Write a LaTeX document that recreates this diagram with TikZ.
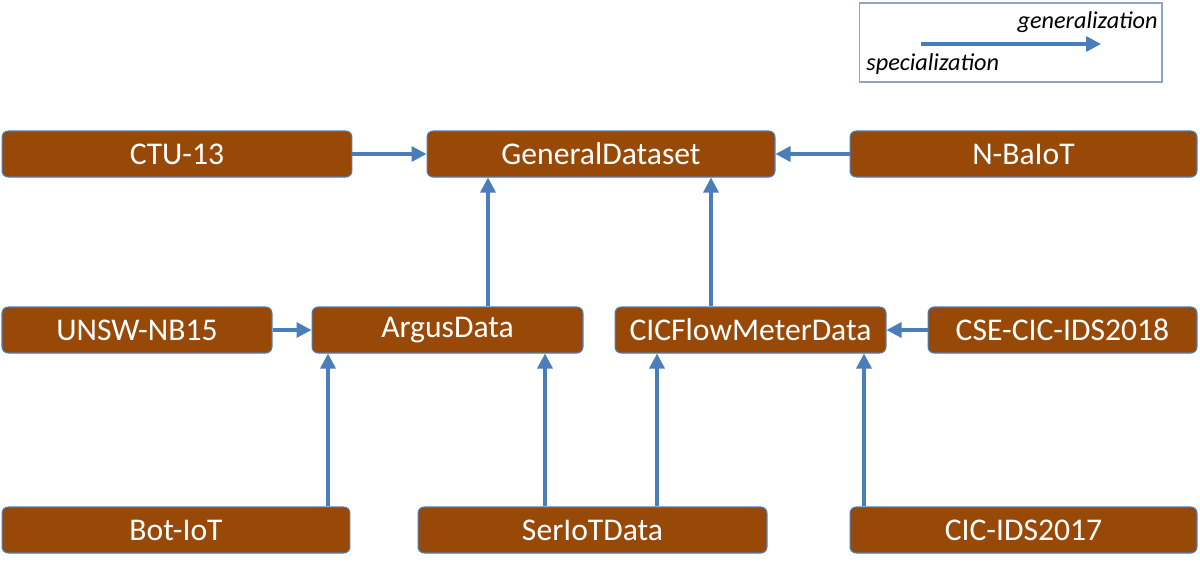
\documentclass[tikz,border=0pt]{standalone}
\usepackage{fontspec}
\setmainfont{Carlito}
\usetikzlibrary{arrows.meta}
\definecolor{boxfill}{HTML}{984807}
\definecolor{boxline}{HTML}{4A7EBB}
\definecolor{arr}{HTML}{4A7EBB}
\definecolor{legline}{HTML}{8EA4C4}
\begin{document}
\begin{tikzpicture}[x=0.02cm,y=-0.02cm,
  ds/.style={draw=boxline,line width=0.6pt,fill=boxfill,rounded corners=3.5pt,text=white,font=\fontsize{18}{20}\selectfont,inner sep=0pt,minimum height=0.92cm},
  link/.style={draw=arr,line width=1.9pt,-{Triangle[length=0.3cm,width=0.3cm]}},
  legtxt/.style={font=\fontsize{13.8}{15}\selectfont\itshape,inner sep=0pt}]
\useasboundingbox (0,0) rectangle (1200,569);
\node[ds,minimum width=7.0cm] (ctu) at (177,154) {CTU-13};
\node[ds,minimum width=6.96cm] (gen) at (601,154) {GeneralDataset};
\node[ds,minimum width=6.94cm] (nbaiot) at (1023.5,154) {N-BaIoT};
\node[ds,minimum width=5.4cm] (unsw) at (137,330) {UNSW-NB15};
\node[ds,minimum width=5.42cm] (argus) at (447.5,330) {ArgusData};
\node[ds,minimum width=5.42cm] (cic) at (750.5,330) {CICFlowMeterData};
\node[ds,minimum width=5.38cm] (cse) at (1062.5,330) {CSE-CIC-IDS2018};
\node[ds,minimum width=6.96cm] (bot) at (176,530) {Bot-IoT};
\node[ds,minimum width=6.98cm] (ser) at (592.5,530) {SerIoTData};
\node[ds,minimum width=6.94cm] (cic17) at (1023.5,530) {CIC-IDS2017};
\draw[link] (ctu) -- (gen);
\draw[link] (nbaiot) -- (gen);
\draw[link] (argus.north -| 488,0) -- (gen.south -| 488,0);
\draw[link] (cic.north -| 711,0) -- (gen.south -| 711,0);
\draw[link] (unsw) -- (argus);
\draw[link] (cse) -- (cic);
\draw[link] (bot.north -| 328,0) -- (argus.south -| 328,0);
\draw[link] (ser.north -| 545,0) -- (argus.south -| 545,0);
\draw[link] (ser.north -| 657,0) -- (cic.south -| 657,0);
\draw[link] (cic17.north -| 864,0) -- (cic.south -| 864,0);
% legend
\node[draw=legline,line width=0.6pt,minimum width=6.06cm,minimum height=1.58cm,inner sep=0pt] (legend) at (1010.5,42.5) {};
\coordinate (ls) at (921,44);
\coordinate (le) at (1101,44);
\draw[link] (ls) -- (le);
\node[legtxt,anchor=east] (g) at (1158,22) {generalization};
\node[legtxt,anchor=west] (s) at (866,64) {specialization};
\end{tikzpicture}
\end{document}
